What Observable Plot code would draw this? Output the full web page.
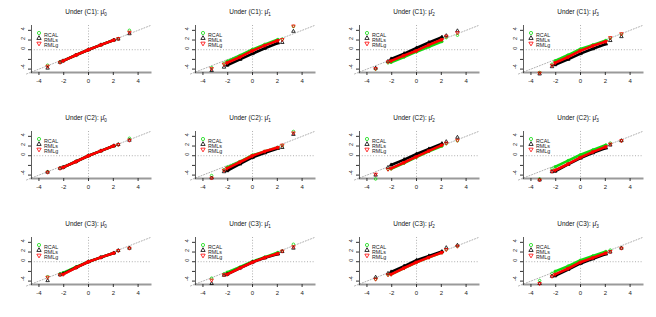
<!DOCTYPE html>
<html>
<head>
<meta charset="utf-8">
<script src="https://cdn.jsdelivr.net/npm/d3@7"></script>
<script src="https://cdn.jsdelivr.net/npm/@observablehq/plot@0.6"></script>
<style>
  html, body { margin: 0; padding: 0; background: #fff; }
  #root { position: relative; width: 656px; height: 317px; overflow: hidden; font-family: "Liberation Sans", Arial, sans-serif; }
  .title { position: absolute; width: 110px; text-align: center; font-size: 6.4px; line-height: 10px; color: #111; white-space: nowrap; }
  .title sub { font-size: 4.6px; vertical-align: -1.5px; }
  .panel { position: absolute; }
</style>
</head>
<body>
<div id="root"></div>
<script>
// Theoretical normal quantiles (x) at which values were read
const quantiles = [-3.3, -2.3, -2.05, -1, 0, 1, 2.05, 2.4, 3.3];
const conditions = ["C1", "C2", "C3"];
const estimands = ["0", "1", "2", "3"];
const methods = ["RCAL", "RMLs", "RMLg"];
const methodColors = ["#10dc10", "#000000", "#ff0000"];
const xTicks = [-4, -2, 0, 2, 4];
const yTicks = [-4, -2, 0, 2, 4];
const yTickLabels = [-4, 0, 2, 4];
const diagonal = [-5, 5];

// Sample quantiles: rows = RCAL, RMLs, RMLg
const C1_mu0 = [
  [-3.2, -2.5, -2.3, -1.1, 0, 1.0, 2.0, 2.3, 4.0],
  [-3.8, -2.6, -2.3, -1.1, 0, 1.0, 2.0, 2.2, 3.3],
  [-3.4, -2.6, -2.3, -1.1, 0, 1.0, 2.0, 2.3, 3.6]
];
const C1_mu1 = [
  [-3.7, -2.8, -2.4, -1.2, 0.05, 1.1, 2.1, 2.2, 4.8],
  [-4.3, -3.6, -3.2, -2.0, -0.8, 0.3, 1.4, 1.5, 3.8],
  [-3.9, -3.0, -2.7, -1.5, -0.2, 0.9, 1.9, 2.1, 4.9]
];
const C1_mu2 = [
  [-4.0, -2.7, -2.6, -1.5, -0.4, 0.6, 1.7, 2.5, 3.0],
  [-3.8, -2.4, -1.9, -0.8, 0.35, 1.5, 2.6, 2.9, 3.9],
  [-3.9, -2.5, -2.3, -1.2, -0.2, 1.0, 2.1, 2.8, 3.5]
];
const C1_mu3 = [
  [-4.7, -3.0, -2.3, -1.1, 0.15, 1.0, 1.9, 2.4, 3.2],
  [-5.0, -3.5, -3.1, -2.0, -0.8, 0.2, 1.2, 1.9, 2.7],
  [-4.8, -3.2, -2.7, -1.5, -0.2, 0.8, 1.7, 2.5, 3.3]
];
const C2_mu0 = [
  [-3.3, -2.6, -2.4, -1.2, 0, 1.0, 2.05, 2.3, 3.6],
  [-3.4, -2.6, -2.4, -1.2, 0, 1.0, 2.05, 2.3, 3.2],
  [-3.4, -2.6, -2.4, -1.2, 0, 1.0, 2.05, 2.3, 3.2]
];
const C2_mu1 = [
  [-4.1, -2.9, -2.4, -1.2, 0.1, 0.9, 1.7, 2.1, 5.0],
  [-4.6, -3.3, -3.1, -1.7, -0.35, 0.6, 1.5, 1.7, 4.4],
  [-4.6, -3.0, -2.6, -1.3, 0, 0.9, 1.7, 2.2, 4.7]
];
const C2_mu2 = [
  [-4.8, -2.8, -2.7, -1.5, -0.3, 0.9, 2.0, 2.5, 3.1],
  [-4.0, -2.4, -1.9, -0.8, 0.35, 1.4, 2.5, 2.9, 3.8],
  [-3.8, -2.8, -2.6, -1.4, -0.2, 1.0, 2.2, 2.6, 3.2]
];
const C2_mu3 = [
  [-4.8, -2.7, -2.3, -1.0, 0.2, 1.2, 2.2, 2.6, 3.1],
  [-5.0, -3.3, -3.2, -1.8, -0.5, 0.6, 1.6, 2.2, 3.1],
  [-5.0, -3.2, -3.0, -1.7, -0.35, 0.8, 1.85, 2.4, 3.1]
];
const C3_mu0 = [
  [-3.1, -2.5, -2.3, -1.1, 0, 0.9, 1.8, 2.3, 2.8],
  [-3.9, -2.7, -2.5, -1.2, 0, 0.9, 1.8, 2.3, 2.8],
  [-3.2, -2.7, -2.6, -1.2, 0, 0.9, 1.8, 2.3, 2.8]
];
const C3_mu1 = [
  [-3.4, -2.5, -2.2, -1.1, 0.05, 0.95, 1.9, 2.2, 3.6],
  [-4.5, -2.8, -2.6, -1.3, -0.1, 0.8, 1.6, 2.1, 2.8],
  [-3.8, -2.7, -2.6, -1.3, -0.1, 0.85, 1.7, 2.2, 3.1]
];
const C3_mu2 = [
  [-3.6, -2.7, -2.6, -1.3, -0.1, 0.9, 1.9, 2.5, 3.2],
  [-3.2, -2.4, -2.1, -0.9, 0.3, 1.2, 2.1, 2.9, 3.4],
  [-3.6, -2.7, -2.6, -1.3, -0.1, 0.9, 1.9, 2.5, 3.2]
];
const C3_mu3 = [
  [-3.9, -2.4, -2.0, -0.9, 0.3, 1.2, 2.1, 2.4, 2.8],
  [-4.5, -3.0, -2.9, -1.6, -0.35, 0.6, 1.6, 2.0, 2.8],
  [-4.5, -3.0, -2.6, -1.4, -0.1, 0.8, 1.8, 2.1, 2.8]
];

const panelData = [
  [C1_mu0, C1_mu1, C1_mu2, C1_mu3],
  [C2_mu0, C2_mu1, C2_mu2, C2_mu3],
  [C3_mu0, C3_mu1, C3_mu2, C3_mu3]
];

// inverted triangle symbol (R pch 6)
const triangleDown = {
  draw(context, size) {
    const t = Math.sqrt(size / (3 * Math.sqrt(3)));
    context.moveTo(0, 2 * t);
    context.lineTo(Math.sqrt(3) * t, -t);
    context.lineTo(-Math.sqrt(3) * t, -t);
    context.closePath();
  }
};
const methodSymbols = ["circle", "triangle", triangleDown];

const root = document.getElementById("root");
const colWidth = 164;
const rowTops = [0, 106, 212];
const dotted = {stroke: "#9a9a9a", strokeDasharray: "1,1.8", strokeWidth: 0.8};

conditions.forEach((cond, ri) => {
  estimands.forEach((est, ci) => {
    const left = ci * colWidth;
    const top = rowTops[ri];

    const title = document.createElement("div");
    title.className = "title";
    title.style.left = (left + 86 - 55) + "px";
    title.style.top = (top + 7) + "px";
    title.innerHTML = `Under (${cond}): μ\u0302<sub>${est}</sub>`;
    root.appendChild(title);

    const series = panelData[ri][ci];
    const rows = [];
    methods.forEach((m, mi) => {
      series[mi].forEach((v, qi) => {
        rows.push({method: m, mi, x: quantiles[qi], y: v, band: Math.abs(quantiles[qi]) <= 2.1});
      });
    });

    const marks = [
      Plot.line(diagonal, {x: d => d, y: d => d, ...dotted}),
      Plot.ruleY([0], dotted),
      Plot.ruleX([0], dotted),
      Plot.frame({anchor: "bottom", stroke: "#9a9a9a", strokeWidth: 2}),
      Plot.frame({anchor: "left", stroke: "#333", strokeWidth: 0.8}),
      Plot.axisX({ticks: xTicks, tickSize: 3, tickPadding: 3, fontSize: 6, tickFormat: d => String(d), label: null, stroke: "#333", fill: "#222"}),
      Plot.axisY({ticks: yTicks, tickSize: 3, tickFormat: () => "", label: null, stroke: "#333"}),
      Plot.text(yTickLabels, {y: d => d, frameAnchor: "left", dx: -8.5, rotate: -90, text: d => String(d), fontSize: 5.5, fill: "#222"})
    ];
    methods.forEach((m, mi) => {
      const sub = rows.filter(d => d.mi === mi);
      marks.push(Plot.line(sub.filter(d => d.band), {x: "x", y: "y", stroke: methodColors[mi], strokeWidth: 2.6}));
      marks.push(Plot.dot(sub, {x: "x", y: "y", symbol: () => methodSymbols[mi], stroke: methodColors[mi], r: 1.3, strokeWidth: 0.8}));
    });
    methods.forEach((m, mi) => {
      marks.push(Plot.dot([m], {frameAnchor: "top-left", dx: 7.5, dy: 7.5 + mi * 5.2, symbol: () => methodSymbols[mi], stroke: methodColors[mi], r: 1.6, strokeWidth: 0.8}));
      marks.push(Plot.text([m], {frameAnchor: "top-left", dx: 12.5, dy: 7.5 + mi * 5.2, text: d => d, textAnchor: "start", fontSize: 5.3, fill: "#222"}));
    });

    const chart = Plot.plot({
      width: 164,
      height: 80,
      marginLeft: 31,
      marginRight: 14,
      marginTop: 5,
      marginBottom: 28,
      x: {domain: [-4.6, 5.0], label: null},
      y: {domain: [-4.7, 5.0], label: null},
      symbol: {type: "identity"},
      style: {fontFamily: "Liberation Sans, Arial, sans-serif", background: "transparent", overflow: "visible"},
      marks
    });
    const wrap = document.createElement("div");
    wrap.className = "panel";
    wrap.style.left = left + "px";
    wrap.style.top = (top + 20) + "px";
    wrap.appendChild(chart);
    root.appendChild(wrap);
  });
});
</script>
</body>
</html>
